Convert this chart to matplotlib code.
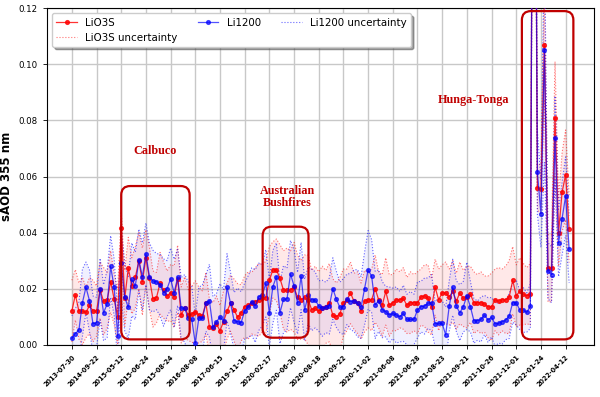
import matplotlib
matplotlib.use("Agg")
import matplotlib.pyplot as plt
from matplotlib.patches import FancyBboxPatch
import numpy as np

# ---- data ----
tick_dates = ['2013-07-30', '2014-09-22', '2015-05-12', '2015-06-24', '2015-08-24',
              '2016-08-08', '2017-06-15', '2019-11-18', '2020-02-17', '2020-06-30',
              '2020-08-18', '2020-09-22', '2020-11-02', '2021-06-08', '2021-06-28',
              '2021-08-23', '2021-09-21', '2021-10-26', '2021-12-01', '2022-01-24',
              '2022-04-12']

# sample 131 is far above the plotted range (goes off the top of the axes)
lio3s = [0.0120, 0.0178, 0.0120, 0.0120, 0.0115, 0.0140, 0.0120, 0.0120, 0.0195, 0.0155,
         0.0158, 0.0225, 0.0162, 0.0100, 0.0415, 0.0165, 0.0273, 0.0210, 0.0240, 0.0300,
         0.0225, 0.0310, 0.0237, 0.0163, 0.0168, 0.0219, 0.0195, 0.0173, 0.0186, 0.0171,
         0.0235, 0.0106, 0.0132, 0.0106, 0.0108, 0.0118, 0.0106, 0.0102, 0.0148, 0.0064,
         0.0060, 0.0074, 0.0050, 0.0082, 0.0120, 0.0148, 0.0124, 0.0098, 0.0114, 0.0136,
         0.0140, 0.0148, 0.0154, 0.0160, 0.0165, 0.0168, 0.0230, 0.0267, 0.0267, 0.0237,
         0.0195, 0.0195, 0.0195, 0.0205, 0.0169, 0.0160, 0.0170, 0.0160, 0.0125, 0.0130,
         0.0120, 0.0130, 0.0135, 0.0150, 0.0105, 0.0100, 0.0110, 0.0150, 0.0160, 0.0185,
         0.0155, 0.0150, 0.0120, 0.0155, 0.0160, 0.0160, 0.0200, 0.0160, 0.0140, 0.0190,
         0.0140, 0.0150, 0.0160, 0.0160, 0.0165, 0.0140, 0.0150, 0.0150, 0.0150, 0.0170,
         0.0175, 0.0165, 0.0135, 0.0205, 0.0160, 0.0185, 0.0185, 0.0170, 0.0190, 0.0155,
         0.0185, 0.0165, 0.0170, 0.0180, 0.0150, 0.0150, 0.0150, 0.0145, 0.0135, 0.0135,
         0.0160, 0.0155, 0.0160, 0.0160, 0.0170, 0.0230, 0.0175, 0.0190, 0.0180, 0.0175,
         0.0180, 0.3000, 0.0560, 0.0555, 0.1070, 0.0273, 0.0273, 0.0810, 0.0400, 0.0544,
         0.0606, 0.0413]

lio3s_unc = [0.011, 0.009, 0.010, 0.012, 0.009, 0.010, 0.011, 0.009, 0.010, 0.012,
             0.010, 0.011, 0.009, 0.010, 0.006, 0.010, 0.011, 0.010, 0.011, 0.010,
             0.012, 0.010, 0.011, 0.010, 0.009, 0.011, 0.010, 0.009, 0.010, 0.011,
             0.012, 0.010, 0.011, 0.009, 0.010, 0.011, 0.010, 0.009, 0.011, 0.010,
             0.009, 0.010, 0.009, 0.011, 0.010, 0.010, 0.011, 0.012, 0.010, 0.011,
             0.012, 0.011, 0.012, 0.013, 0.012, 0.013, 0.012, 0.010, 0.011, 0.012,
             0.014, 0.015, 0.014, 0.016, 0.015, 0.014, 0.015, 0.016, 0.014, 0.015,
             0.014, 0.015, 0.013, 0.014, 0.013, 0.012, 0.013, 0.012, 0.011, 0.011,
             0.010, 0.011, 0.010, 0.011, 0.010, 0.011, 0.012, 0.010, 0.011, 0.012,
             0.011, 0.010, 0.011, 0.010, 0.011, 0.010, 0.011, 0.010, 0.011, 0.010,
             0.011, 0.012, 0.010, 0.010, 0.011, 0.010, 0.011, 0.010, 0.011, 0.010,
             0.011, 0.010, 0.011, 0.010, 0.011, 0.010, 0.011, 0.010, 0.011, 0.012,
             0.011, 0.012, 0.011, 0.012, 0.013, 0.012, 0.011, 0.012, 0.011, 0.010,
             0.011, 0.020, 0.008, 0.009, 0.020, 0.012, 0.012, 0.020, 0.012, 0.014,
             0.016, 0.012]

li1200 = [0.0023, 0.0040, 0.0052, 0.0150, 0.0205, 0.0157, 0.0074, 0.0079, 0.0198, 0.0114,
          0.0145, 0.0279, 0.0205, 0.0030, 0.0290, 0.0169, 0.0133, 0.0233, 0.0210, 0.0302,
          0.0243, 0.0324, 0.0243, 0.0227, 0.0225, 0.0213, 0.0186, 0.0200, 0.0235, 0.0185,
          0.0240, 0.0130, 0.0130, 0.0094, 0.0090, 0.0005, 0.0094, 0.0094, 0.0148, 0.0157,
          0.0062, 0.0082, 0.0098, 0.0086, 0.0205, 0.0148, 0.0086, 0.0082, 0.0079, 0.0120,
          0.0136, 0.0154, 0.0138, 0.0171, 0.0177, 0.0219, 0.0112, 0.0207, 0.0243, 0.0114,
          0.0162, 0.0163, 0.0252, 0.0210, 0.0148, 0.0245, 0.0124, 0.0177, 0.0160, 0.0160,
          0.0138, 0.0130, 0.0133, 0.0138, 0.0200, 0.0162, 0.0133, 0.0136, 0.0162, 0.0154,
          0.0157, 0.0148, 0.0133, 0.0200, 0.0267, 0.0245, 0.0142, 0.0157, 0.0125, 0.0118,
          0.0106, 0.0112, 0.0106, 0.0100, 0.0112, 0.0090, 0.0090, 0.0090, 0.0124, 0.0136,
          0.0138, 0.0148, 0.0150, 0.0074, 0.0076, 0.0076, 0.0035, 0.0138, 0.0205, 0.0138,
          0.0114, 0.0136, 0.0174, 0.0136, 0.0085, 0.0086, 0.0090, 0.0106, 0.0088, 0.0098,
          0.0074, 0.0076, 0.0082, 0.0088, 0.0102, 0.0150, 0.0150, 0.0124, 0.0124, 0.0115,
          0.0138, 0.3000, 0.0615, 0.0467, 0.1050, 0.0264, 0.0250, 0.0737, 0.0363, 0.0450,
          0.0530, 0.0340]

li1200_unc = [0.008, 0.009, 0.010, 0.012, 0.009, 0.011, 0.010, 0.009, 0.011, 0.010,
              0.012, 0.011, 0.010, 0.009, 0.012, 0.012, 0.011, 0.013, 0.012, 0.011,
              0.012, 0.011, 0.012, 0.011, 0.010, 0.011, 0.012, 0.010, 0.011, 0.012,
              0.010, 0.011, 0.012, 0.013, 0.012, 0.010, 0.011, 0.012, 0.010, 0.013,
              0.011, 0.010, 0.012, 0.011, 0.012, 0.011, 0.010, 0.012, 0.011, 0.010,
              0.011, 0.012, 0.013, 0.012, 0.011, 0.012, 0.012, 0.013, 0.012, 0.011,
              0.012, 0.011, 0.012, 0.013, 0.011, 0.012, 0.011, 0.010, 0.011, 0.010,
              0.009, 0.010, 0.009, 0.010, 0.011, 0.010, 0.009, 0.010, 0.009, 0.010,
              0.011, 0.012, 0.011, 0.013, 0.014, 0.013, 0.012, 0.011, 0.010, 0.009,
              0.010, 0.009, 0.010, 0.009, 0.010, 0.009, 0.010, 0.009, 0.010, 0.009,
              0.010, 0.009, 0.010, 0.008, 0.009, 0.008, 0.010, 0.009, 0.010, 0.009,
              0.010, 0.009, 0.012, 0.009, 0.008, 0.007, 0.008, 0.007, 0.008, 0.007,
              0.008, 0.007, 0.008, 0.007, 0.008, 0.007, 0.008, 0.007, 0.008, 0.007,
              0.008, 0.020, 0.015, 0.012, 0.040, 0.010, 0.010, 0.015, 0.012, 0.013,
              0.014, 0.012]

# event boxes: (x_start, x_end, y_bottom, y_top) in sample index / sAOD
events = {
    'Calbuco': (14.0, 33.4, 0.0019, 0.0566),
    'Australian\nBushfires': (54.1, 67.1, 0.0025, 0.0421),
    'Hunga-Tonga': (127.6, 142.2, 0.0019, 0.119),
}
event_labels = {
    'Calbuco': (23.5, 0.0691),
    'Australian\nBushfires': (61.1, 0.0527),
    'Hunga-Tonga': (113.9, 0.0873),
}
tick_step = 7

# ---- style ----
plt.rcParams.update({
    'font.family': 'DejaVu Sans',
    'axes.linewidth': 0.8,
    'xtick.direction': 'out',
    'ytick.direction': 'out',
})

fig = plt.figure(figsize=(6, 3.97), dpi=100)
ax = fig.add_axes([0.0783, 0.1317, 0.9117, 0.8474])

x = np.arange(len(lio3s))
r = np.array(lio3s)
r_u = np.array(lio3s_unc)
b = np.array(li1200)
b_u = np.array(li1200_unc)

# LiO3S
ax.plot(x, r, color='red', marker='o', markersize=2.7, linewidth=0.9,
        alpha=0.8, label='LiO3S', zorder=4)
ax.plot(x, r + r_u, color='red', linestyle=':', linewidth=0.8, alpha=0.55,
        label='LiO3S uncertainty', zorder=3)
ax.plot(x, r - r_u, color='red', linestyle=':', linewidth=0.8, alpha=0.55, zorder=3)
ax.fill_between(x, r - r_u, r + r_u, color='red', alpha=0.09, linewidth=0, zorder=2)

# Li1200
ax.plot(x, b, color='blue', marker='o', markersize=2.7, linewidth=0.9,
        alpha=0.68, label='Li1200', zorder=4)
ax.plot(x, b + b_u, color='blue', linestyle=':', linewidth=0.8, alpha=0.6,
        label='Li1200 uncertainty', zorder=3)
ax.plot(x, b - b_u, color='blue', linestyle=':', linewidth=0.8, alpha=0.6, zorder=3)
ax.fill_between(x, b - b_u, b + b_u, color='blue', alpha=0.06, linewidth=0, zorder=2)

# ---- axes ----
ax.set_xlim(-7.05, 148.05)
ax.set_ylim(0, 0.12)
ax.set_xticks(np.arange(0, tick_step * len(tick_dates), tick_step))
ax.set_xticklabels(tick_dates, rotation=45, ha='right', va='top',
                   rotation_mode='anchor', fontsize=4.7, fontweight='bold')
ax.set_yticks(np.arange(0, 0.121, 0.02))
ax.set_yticklabels([f'{v:.2f}' for v in np.arange(0, 0.121, 0.02)], fontsize=6.2)
ax.tick_params(axis='both', length=3, width=0.6)
ax.set_ylabel('sAOD 355 nm', fontsize=8.5, fontweight='bold')
ax.grid(True, color='#c8c8c8', linewidth=1.0)
ax.set_axisbelow(True)

# ---- event boxes with rounded corners (same pixel radius on both axes) ----
fig.canvas.draw()
px_per_x = ax.bbox.width / (ax.get_xlim()[1] - ax.get_xlim()[0])
px_per_y = ax.bbox.height / (ax.get_ylim()[1] - ax.get_ylim()[0])
radius = 9 / px_per_x
for name, (x0, x1, y0, y1) in events.items():
    box = FancyBboxPatch((x0, y0), x1 - x0, y1 - y0,
                         boxstyle=f'round,pad=0,rounding_size={radius}',
                         mutation_aspect=px_per_x / px_per_y,
                         facecolor='none', edgecolor='#c00000', linewidth=1.6,
                         zorder=5)
    ax.add_patch(box)
    tx, ty = event_labels[name]
    ax.text(tx, ty, name, color='#c00000', fontsize=8.7, fontweight='bold',
            family='Liberation Serif', ha='center', va='center',
            linespacing=1.05, zorder=6)

leg = ax.legend(loc='upper left', ncol=3, fontsize=7.4, shadow=True)

fig.savefig('out.png', dpi=100)
